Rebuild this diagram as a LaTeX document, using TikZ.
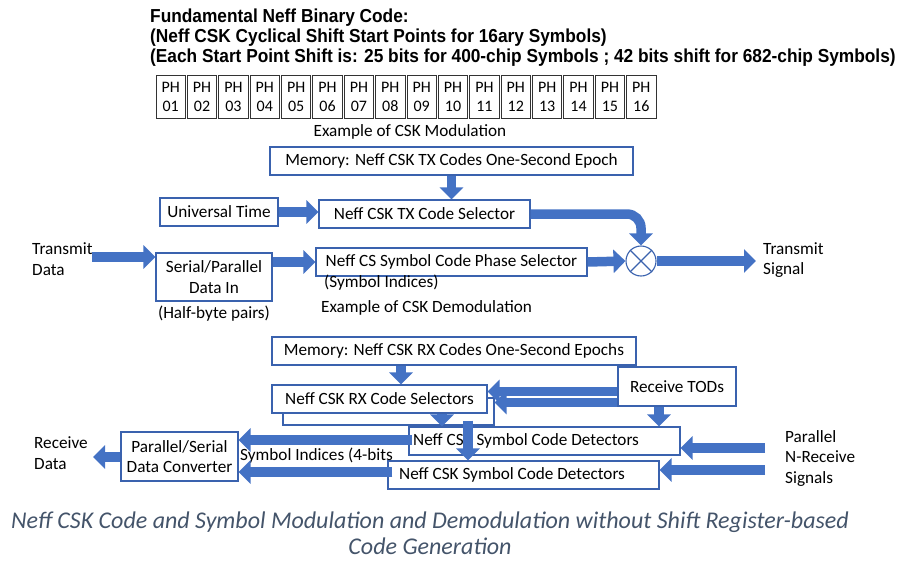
\documentclass[tikz,border=0pt]{standalone}
\usepackage{fontspec}
\setmainfont{Carlito}
\newfontfamily\titlefont[FakeStretch=0.92]{Liberation Sans}
\usetikzlibrary{arrows.meta,calc}
\definecolor{ablue}{HTML}{4472C4}
\definecolor{bblue}{HTML}{3A62AE}
\definecolor{capc}{HTML}{44546A}
\begin{document}
\begin{tikzpicture}[x=1pt,y=-1pt,
  font=\fontsize{17.2}{20.5}\selectfont,
  box/.style 2 args={draw=bblue, line width=1.1pt, fill=white, inner sep=0pt, minimum width=#1, minimum height=#2},
  cell/.style={draw=black!80, line width=0.8pt, inner sep=0pt, minimum width=29.4pt, minimum height=43pt, align=center, font=\fontsize{16}{19}\selectfont},
  lbl/.style={inner sep=0pt, align=left},
  ttl/.style={anchor=west, inner sep=0pt, font=\titlefont\bfseries\fontsize{18.8}{20}\selectfont},
  blk/.style={line width=9.5pt, ablue, -{Triangle[length=12pt,width=23pt]}},
  captxt/.style={inner sep=0pt, text=capc, font=\itshape\fontsize{24}{28}\selectfont}]
\useasboundingbox (0,0) rectangle (900,560);

% title
\node[ttl] (t1) at (150,18) {Fundamental Neff Binary Code:};
\node[ttl] (t2) at (150,38) {(Neff CSK Cyclical Shift Start Points for 16ary Symbols)};
\node[ttl] (t3) at (150,58) {(Each Start Point Shift is: 25 bits for 400-chip Symbols ; 42 bits shift for 682-chip Symbols)};

% PH cells
\foreach \i/\n in {1/01,2/02,3/03,4/04,5/05,6/06,7/07,8/08,9/09,10/10,11/11,12/12,13/13,14/14,15/15,16/16}{
  \node[cell] (ph\i) at ({155+(\i-0.5)*31.375},96.5) {PH\\\n};
}
\node[lbl] (exmod) at (410,132) {Example of CSK Modulation};

% modulation
\node[box={363pt}{28pt}] (memtx) at (451.5,161) {Memory: Neff CSK TX Codes One-Second Epoch};
\node[box={118pt}{28pt}] (ut) at (219,212) {Universal Time};
\node[box={211pt}{28pt}] (txsel) at (424.5,214) {Neff CSK TX Code Selector};
\node[box={271pt}{28pt}] (phsel) at (451.5,262) {Neff CS Symbol Code Phase Selector};
\node[lbl, anchor=west] (symidx) at (324,283) {(Symbol Indices)};
\node[box={116pt}{48pt}, align=center] (sp) at (214,277) {Serial/Parallel\\Data In};
\node[lbl] (hb) at (214,314) {(Half-byte pairs)};
\node[lbl, anchor=west] (exdem) at (321,308) {Example of CSK Demodulation};
\node[draw=bblue, line width=1.1pt, circle, minimum size=30pt, inner sep=0pt, fill=white] (mult) at (641,261) {};
\draw[bblue, line width=1.1pt] (mult.north west) -- (mult.south east) (mult.north east) -- (mult.south west);
\node[lbl, anchor=west] (tdata) at (32,259) {Transmit\\Data};
\node[lbl, anchor=west] (tsig) at (763,260) {Transmit\\Signal};
\coordinate (tdin) at (92,257);
\coordinate (tsout) at (756,261);

\draw[blk] (tdin) -- (tdin -| sp.west);
\draw[blk] (memtx.south) -- (memtx.south |- txsel.north);
\draw[blk] (ut.east) -- (ut.east -| txsel.west);
\draw[blk] (phsel.west -| sp.east) -- (phsel.west);
\draw[blk] (phsel.east) -- (mult.west);
\draw[blk] (mult.east) -- (tsout);
\draw[blk, rounded corners=14pt] (txsel.east) -| (mult.north);

% demodulation
\node[box={364pt}{28pt}] (memrx) at (454,351) {Memory: Neff CSK RX Codes One-Second Epochs};
\node[box={211pt}{27pt}] (rxsel2) at (388.5,411.5) {};
\node[box={215pt}{28pt}] (rxsel) at (379.5,399) {Neff CSK RX Code Selectors};
\node[box={118pt}{39pt}] (tods) at (677,386.5) {Receive TODs};
\node[box={271pt}{28pt}] (det1) at (544.5,441) {};
\node[lbl, anchor=west] (det1t) at (413,441) {Neff CSK Symbol Code Detectors};
\node[box={271pt}{28pt}] (det2) at (523.5,475) {};
\node[lbl, anchor=west] (det2t) at (399,475) {Neff CSK Symbol Code Detectors};
\node[box={117pt}{49pt}, align=center] (ps) at (179.5,456.5) {Parallel/Serial\\Data Converter};
\node[lbl, anchor=west] (rdata) at (34,453) {Receive\\Data};
\node[lbl, anchor=west] (symi4) at (240,456) {Symbol Indices (4-bits};
\node[lbl, anchor=west] (prs) at (785,458) {Parallel\\N-Receive\\Signals};
\coordinate (rdout) at (93,457);
\coordinate (in1) at (765,448);
\coordinate (in2) at (765,470);
\coordinate (xm) at (401,0);

\draw[blk] (memrx.south -| xm) -- (rxsel.north -| xm);
\draw[blk] ([xshift=62.5pt]rxsel.south) -- ([xshift=62.5pt]rxsel.south |- det1.north);
\draw[blk] ([xshift=79.5pt,yshift=5pt]rxsel2.south) -- ([xshift=79.5pt]rxsel2.south |- det2.north);
\draw[blk] ([xshift=-18pt]tods.south) -- ([xshift=-18pt]tods.south |- det1.north);
\draw[blk] ([yshift=-5pt]tods.west) -- ([yshift=-5pt]tods.west -| rxsel.east);
\draw[blk] ([yshift=-16pt]tods.west) -- ([yshift=-16pt]tods.west -| rxsel2.east);
\draw[blk] ([xshift=4pt,yshift=1pt]det1.west) -- ([yshift=1pt]det1.west -| ps.east);
\draw[blk] ([xshift=5pt,yshift=3pt]det2.west) -- ([yshift=3pt]det2.west -| ps.east);
\draw[blk] (in1) -- (in1 -| det1.east);
\draw[blk] (in2) -- (in2 -| det2.east);
\draw[blk] (ps.west |- rdout) -- (rdout);

% caption
\node[captxt] (c1) at (430,522) {Neff CSK Code and Symbol Modulation and Demodulation without Shift Register-based};
\node[captxt] (c2) at (430,546) {Code Generation};
\end{tikzpicture}
\end{document}
